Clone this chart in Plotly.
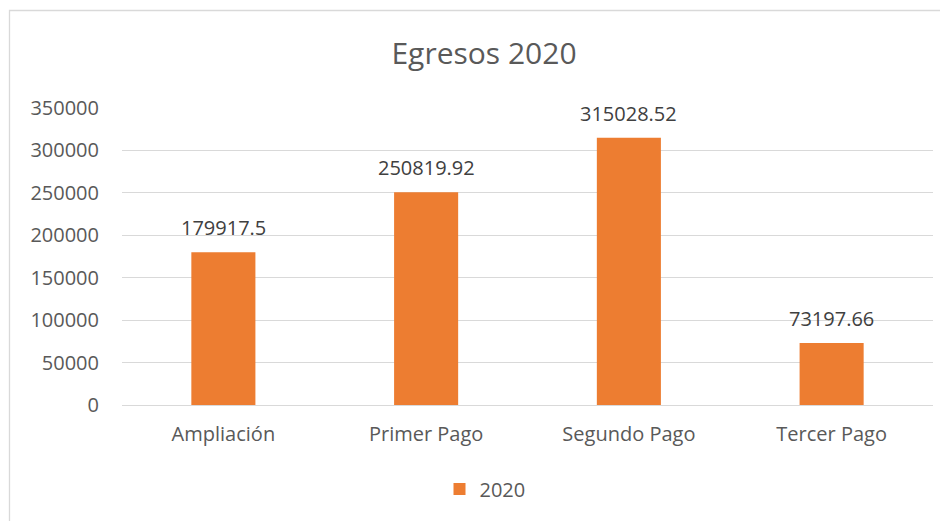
import plotly.graph_objects as go

categories = ["Ampliación", "Primer Pago", "Segundo Pago", "Tercer Pago"]
values = [179917.5, 250819.92, 315028.52, 73197.66]
labels = ["179917.5", "250819.92", "315028.52", "73197.66"]
series_name = "2020"
title_text = "Egresos 2020"
tick_vals = [0, 50000, 100000, 150000, 200000, 250000, 300000, 350000]
tick_text = ["0", "50000", "100000", "150000", "200000", "250000", "300000", "350000"]

FONT = "Open Sans, Liberation Sans, sans-serif"
W, H = 948, 521
OFF = 8  # page body margin
L, R, T, B = 114, 23, 100, 124
pw, ph = W - L - R, H - T - B

fig = go.Figure()
fig.add_trace(go.Bar(
    x=categories, y=values, name=series_name,
    marker=dict(color="#ED7D31", line=dict(width=0)),
    width=0.316,
))

for c, v, t in zip(categories, values, labels):
    fig.add_annotation(x=c, y=v, text=t, showarrow=False, yanchor="bottom",
                       yshift=9, font=dict(family=FONT, size=20, color="#404040"))

def px_x(p):
    return (p - OFF - L) / pw

def px_y(p):
    return (H - B - (p - OFF)) / ph

fig.add_shape(type="rect", xref="paper", yref="paper",
              x0=px_x(9.5), x1=px_x(W + 30), y0=px_y(H + 30), y1=px_y(10.5),
              line=dict(color="#D9D9D9", width=1.3), fillcolor="rgba(0,0,0,0)", layer="below")

fig.update_layout(
    width=W, height=H,
    margin=dict(l=L, r=R, t=T, b=B),
    paper_bgcolor="white", plot_bgcolor="white",
    title=dict(text=title_text, x=(484 - OFF) / W, xref="container", xanchor="center",
               y=1 - (53 - OFF) / H, yref="container", yanchor="middle",
               font=dict(family=FONT, size=30, color="#595959")),
    font=dict(family=FONT, size=20, color="#595959"),
    showlegend=True,
    legend=dict(orientation="h", x=(485 - OFF) / W, xref="container", xanchor="center",
                y=1 - (489 - OFF) / H, yref="container", yanchor="middle",
                itemwidth=30,
                font=dict(family=FONT, size=20, color="#595959")),
)
fig.update_yaxes(range=[0, 350000], tickvals=tick_vals, ticktext=tick_text, showgrid=True,
                 gridcolor="#D9D9D9", gridwidth=1.3, zeroline=False,
                 ticks="outside", ticklen=18, tickcolor="rgba(0,0,0,0)",
                 tickfont=dict(family=FONT, size=20, color="#595959"),
                 showline=False)
fig.update_xaxes(showline=True, linecolor="#D9D9D9", linewidth=1.3,
                 ticks="outside", ticklen=11, tickcolor="rgba(0,0,0,0)",
                 tickfont=dict(family=FONT, size=20, color="#595959"))

fig.write_html("out.html")
